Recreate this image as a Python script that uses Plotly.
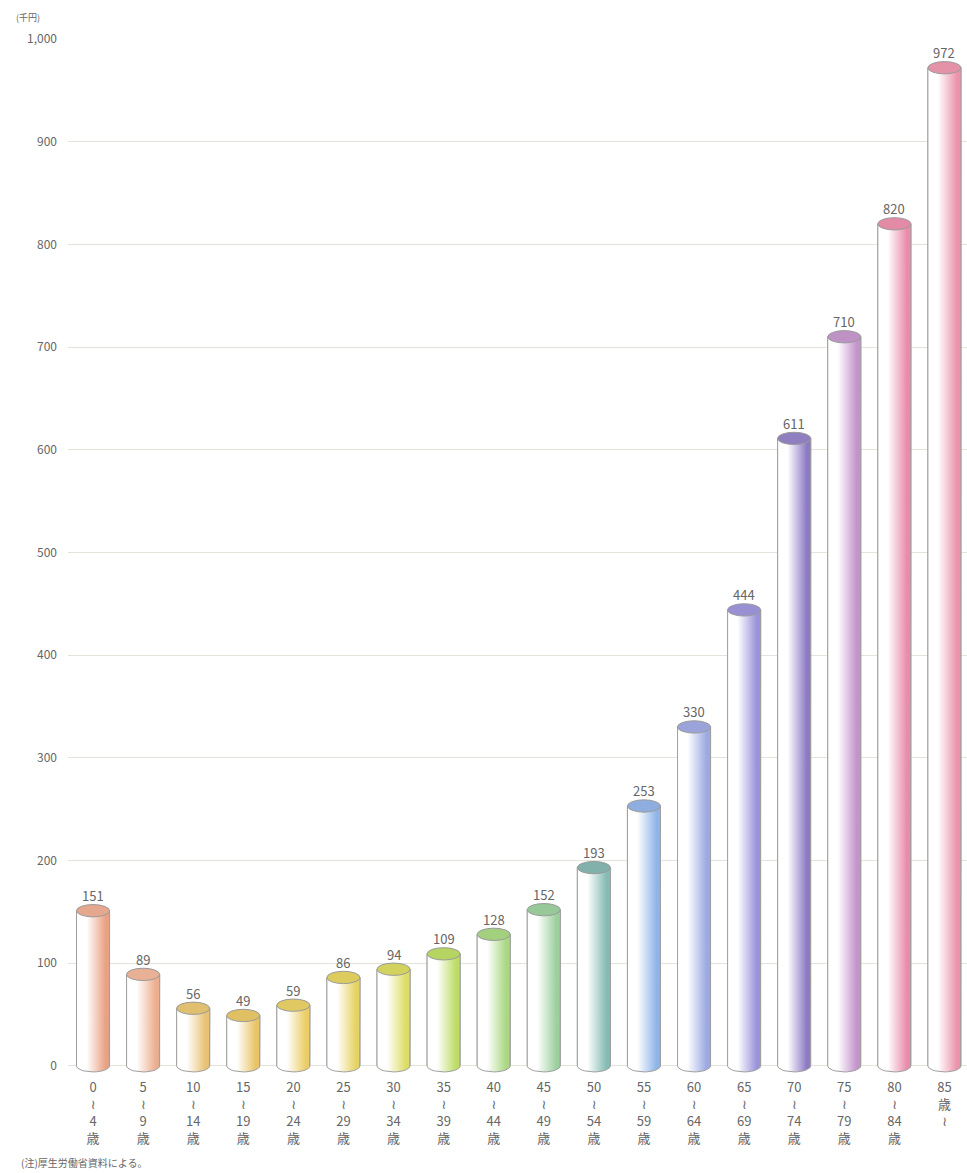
import math
import plotly.graph_objects as go

# ---- data ----
age_groups = ["0〜4歳", "5〜9歳", "10〜14歳", "15〜19歳", "20〜24歳", "25〜29歳",
              "30〜34歳", "35〜39歳", "40〜44歳", "45〜49歳", "50〜54歳", "55〜59歳",
              "60〜64歳", "65〜69歳", "70〜74歳", "75〜79歳", "80〜84歳", "85歳〜"]
age_from = ["0", "5", "10", "15", "20", "25", "30", "35", "40", "45", "50", "55",
            "60", "65", "70", "75", "80", "85"]
age_to = ["4", "9", "14", "19", "24", "29", "34", "39", "44", "49", "54", "59",
          "64", "69", "74", "79", "84", ""]
values = [151, 89, 56, 49, 59, 86, 94, 109, 128, 152, 193, 253, 330, 444, 611, 710, 820, 972]
y_ticks = [0, 100, 200, 300, 400, 500, 600, 700, 800, 900, 1000]
y_tick_text = ["0", "100", "200", "300", "400", "500", "600", "700", "800", "900", "1,000"]

# ---- styles ----
bar_colors = ["#E9A184", "#ECAE8E", "#E8C173", "#E8C466", "#EACD64", "#E6D262",
              "#DCDC66", "#BCDC66", "#A9D782", "#9BD09C", "#85BBB4", "#8FB4E8",
              "#9CA9E2", "#9A92DA", "#8D7AC4", "#C393CB", "#E98BAA", "#EC93AB"]
top_colors = ["#E5A88E", "#E8B095", "#E0BF6E", "#DFC163", "#E0C862", "#DCCC5E",
              "#D2D25E", "#B6D462", "#A3D07E", "#96C898", "#82B0AA", "#8EAEE0",
              "#9BA4DA", "#9890D2", "#8F7FC0", "#BE92C4", "#E28AA6", "#E492A8"]
FONT = "Noto Sans CJK JP"
TEXT_COLOR = "#666666"
BAR_W = 0.66
CAP = 6          # half height of the elliptic cap, in axis units
WAVE = '<span style="font-family:DejaVu Sans">≀</span>'
x_pos = list(range(len(values)))

tick_labels = []
for a, b in zip(age_from, age_to):
    if b:
        tick_labels.append(f"{a}<br>{WAVE}<br>{b}<br>歳")
    else:
        tick_labels.append(f"{a}<br>歳<br>{WAVE}")

fig = go.Figure()

fig.add_trace(go.Bar(
    x=x_pos, y=values, width=BAR_W,
    marker=dict(color=bar_colors, line=dict(color="#9a9a9a", width=1)),
    hoverinfo="skip", showlegend=False,
))

# white-to-colour shading of each cylinder body, with rounded bottom
n_arc = 16
for i, (v, c) in enumerate(zip(values, bar_colors)):
    h = BAR_W / 2
    xs = [i - h, i - h, i + h]
    ys = [0, v, v]
    for k in range(n_arc + 1):
        t = math.pi * k / n_arc
        xs.append(i + h * math.cos(t))
        ys.append(-CAP * math.sin(t))
    fig.add_trace(go.Scatter(
        x=xs, y=ys,
        mode="lines", fill="toself",
        line=dict(color="#a0a0a0", width=1),
        fillgradient=dict(type="horizontal",
                          colorscale=[[0, "#ffffff"], [0.3, "#ffffff"], [0.88, c], [1, c]]),
        hoverinfo="skip", showlegend=False,
    ))

shapes = []
annotations = []
for i, (v, tc) in enumerate(zip(values, top_colors)):
    h = BAR_W / 2
    shapes.append(dict(type="circle", xref="x", yref="y",
                       x0=i - h, x1=i + h, y0=v - CAP, y1=v + CAP,
                       fillcolor=tc, line=dict(color="#9a9a9a", width=1), layer="above"))
    annotations.append(dict(x=i, y=v, xref="x", yref="y", text=str(values[i]),
                            showarrow=False, yshift=15,
                            font=dict(family=FONT, size=13, color=TEXT_COLOR)))

annotations.append(dict(x=-0.045, y=1.0205, xref="paper", yref="paper", text="(千円)",
                        showarrow=False, xanchor="center", yanchor="middle",
                        font=dict(family=FONT, size=9, color=TEXT_COLOR)))
annotations.append(dict(x=-0.055, y=-0.084, xref="paper", yref="paper",
                        text="(注)厚生労働省資料による。",
                        showarrow=False, xanchor="left", yanchor="middle",
                        font=dict(family=FONT, size=10, color=TEXT_COLOR)))

fig.update_layout(
    width=967, height=1173,
    margin=dict(l=68, r=0, t=39, b=98),
    paper_bgcolor="white", plot_bgcolor="white",
    shapes=shapes, annotations=annotations,
    bargap=0.34,
    font=dict(family=FONT, color=TEXT_COLOR),
    xaxis=dict(range=[-0.5, 17.45], tickvals=x_pos, ticktext=tick_labels,
               showgrid=False, zeroline=False, showline=False, ticks="",
               tickfont=dict(family=FONT, size=13, color=TEXT_COLOR),
               ticklabelstandoff=3, fixedrange=True),
    yaxis=dict(range=[-9, 1000], tickvals=y_ticks, ticktext=y_tick_text,
               showgrid=True, gridcolor="#e3e3dc", gridwidth=1,
               zeroline=False, showline=False, ticks="",
               tickfont=dict(family=FONT, size=12, color=TEXT_COLOR),
               ticklabelstandoff=10, fixedrange=True),
)

fig.write_html("out.html")
